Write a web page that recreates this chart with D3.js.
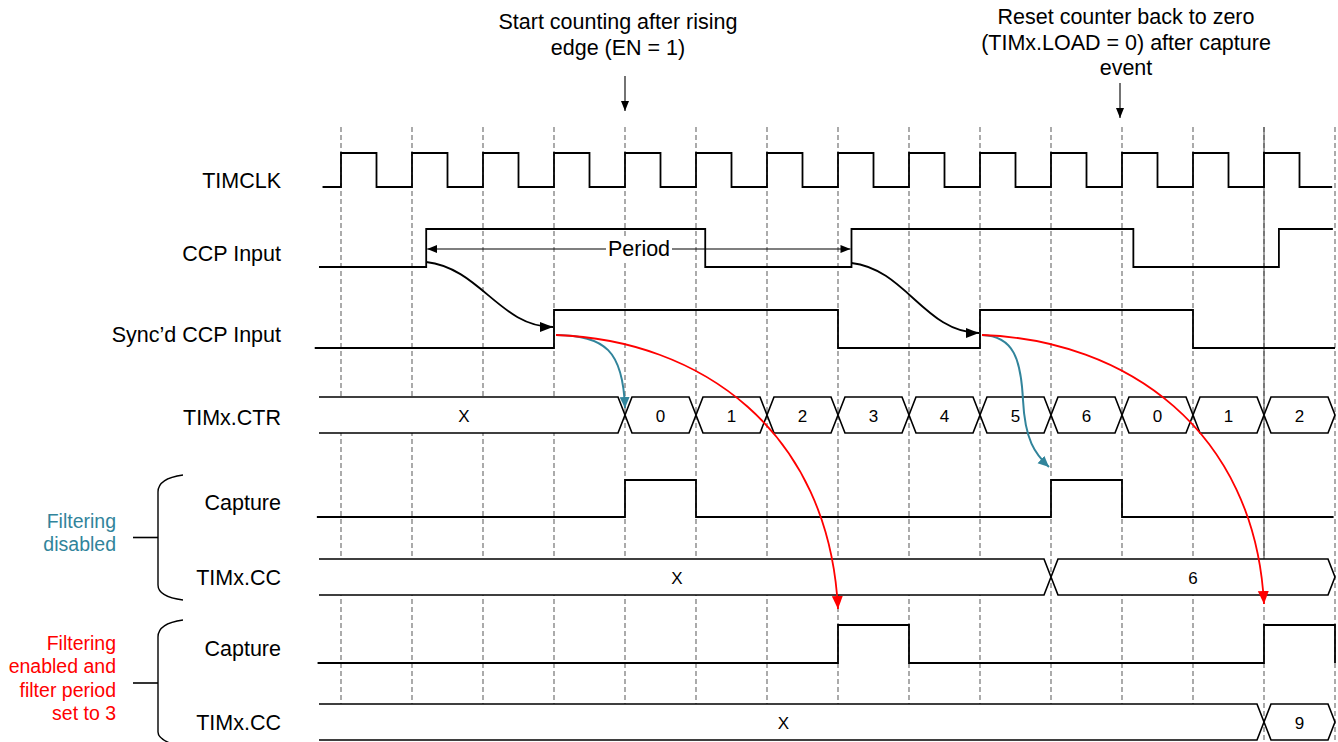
<!DOCTYPE html>
<html>
<head>
<meta charset="utf-8">
<script src="https://cdn.jsdelivr.net/npm/d3@7"></script>
<style>
  html, body { margin: 0; padding: 0; background: #fff; }
  svg { display: block; }
  text { font-family: "Liberation Sans", Arial, sans-serif; fill: #000; }
</style>
</head>
<body>
<svg id="chart" width="1338" height="742"></svg>
<script>
// ---------------- DATA (times in TIMCLK periods) ----------------
const rowLabels = ["TIMCLK", "CCP Input", "Sync\u2019d CCP Input", "TIMx.CTR", "Capture", "TIMx.CC", "Capture", "TIMx.CC"];
const gridTicks = [0, 1, 2, 3, 4, 5, 6, 7, 8, 9, 10, 11, 12, 13, 14];

const clockEdges = [0, 0.5, 1, 1.5, 2, 2.5, 3, 3.5, 4, 4.5, 5, 5.5, 6, 6.5, 7, 7.5, 8, 8.5, 9, 9.5, 10, 10.5, 11, 11.5, 12, 12.5, 13, 13.5];
const ccpInputEdges = [1.2, 5.13, 7.19, 11.16, 13.21];
const syncEdges = [3, 7, 9, 12];
const captureDisabledEdges = [4, 5, 10, 11];
const captureEnabledEdges = [7, 8, 13, 14];

const ctrBounds = [-0.31, 4, 5, 6, 7, 8, 9, 10, 11, 12, 13, 14];
const ctrValues = ["X", "0", "1", "2", "3", "4", "5", "6", "0", "1", "2"];
const ccDisabledBounds = [-0.31, 10, 14];
const ccDisabledValues = ["X", "6"];
const ccEnabledBounds = [-0.31, 13, 14];
const ccEnabledValues = ["X", "9"];

const periodSpan = [1.2, 7.19];
const annotationStart = ["Start counting after rising", "edge (EN = 1)"];
const annotationReset = ["Reset counter back to zero", "(TIMx.LOAD = 0) after capture", "event"];
const groupDisabled = ["Filtering", "disabled"];
const groupEnabled = ["Filtering", "enabled and", "filter period", "set to 3"];

// ---------------- LAYOUT ----------------
const W = 1338, H = 742;
const svg = d3.select("#chart");
const x = d3.scaleLinear().domain([0, 14]).range([341, 1335]);
const TEAL = "#31849B", RED = "#FF0000";

// row geometry: [hiY, loY, labelY]
const rowGeom = [
  [153, 187, 181],
  [229, 267, 254],
  [310, 348, 335],
  [397, 433, 418],
  [480, 517, 503],
  [559, 595, 578],
  [625, 663, 649],
  [704, 740, 723]
];

// markers
const defs = svg.append("defs");
function marker(id, color, len, wid) {
  defs.append("marker").attr("id", id)
    .attr("markerUnits", "userSpaceOnUse")
    .attr("markerWidth", len + 2).attr("markerHeight", wid + 2)
    .attr("viewBox", `0 ${-wid / 2 - 1} ${len + 2} ${wid + 2}`)
    .attr("refX", len).attr("refY", 0)
    .attr("orient", "auto-start-reverse")
    .append("path").attr("d", `M0,${-wid / 2} L${len},0 L0,${wid / 2} Z`).attr("fill", color);
}
marker("arrBlack", "#000", 13, 10);
marker("arrSmall", "#000", 10, 8);
marker("arrTeal", TEAL, 11, 10);
marker("arrRed", RED, 13, 11);

// ---------------- GRID ----------------
svg.append("g").selectAll("line").data(gridTicks).join("line")
  .attr("x1", d => x(d)).attr("x2", d => x(d))
  .attr("y1", 127).attr("y2", H)
  .attr("stroke", "#666").attr("stroke-width", 1.1)
  .attr("stroke-dasharray", "5,3");
// solid marker line
svg.append("line").attr("x1", x(13)).attr("x2", x(13)).attr("y1", 127).attr("y2", 559)
  .attr("stroke", "#444").attr("stroke-width", 1);

// ---------------- ROW LABELS ----------------
svg.append("g").selectAll("text").data(rowLabels).join("text")
  .attr("x", 281).attr("y", (d, i) => rowGeom[i][2])
  .attr("text-anchor", "end").attr("dominant-baseline", "central")
  .attr("font-size", 21.5).text(d => d);

// ---------------- WAVEFORMS ----------------
function wave(edges, start, end, row, initial = 0) {
  const [hi, lo] = rowGeom[row];
  let lvl = initial;
  let p = d3.path();
  p.moveTo(x(start), lvl ? hi : lo);
  edges.forEach(e => {
    p.lineTo(x(e), lvl ? hi : lo);
    lvl = 1 - lvl;
    p.lineTo(x(e), lvl ? hi : lo);
  });
  p.lineTo(x(end), lvl ? hi : lo);
  svg.append("path").attr("d", p.toString())
    .attr("fill", "none").attr("stroke", "#000").attr("stroke-width", 1.8);
}
wave(clockEdges, -0.26, 13.96, 0);
wave(ccpInputEdges, -0.31, 13.97, 1);
wave(syncEdges, -0.37, 14, 2);
wave(captureDisabledEdges, -0.34, 13.98, 4);
wave(captureEnabledEdges, -0.33, 14, 6);

// ---------------- BUSES ----------------
function bus(bounds, values, row) {
  const [top, bot] = rowGeom[row];
  const mid = (top + bot) / 2, s = 7;
  const g = svg.append("g");
  values.forEach((v, i) => {
    const x0 = x(bounds[i]), x1 = x(bounds[i + 1]);
    const open = i === 0;
    let p = d3.path();
    if (open) {
      p.moveTo(x0, top); p.lineTo(x1 - s, top); p.lineTo(x1, mid);
      p.lineTo(x1 - s, bot); p.lineTo(x0, bot);
    } else {
      p.moveTo(x0, mid); p.lineTo(x0 + s, top); p.lineTo(x1 - s, top);
      p.lineTo(x1, mid); p.lineTo(x1 - s, bot); p.lineTo(x0 + s, bot); p.closePath();
    }
    g.append("path").attr("d", p.toString()).attr("fill", "#fff")
      .attr("stroke", "#000").attr("stroke-width", 1.6).attr("stroke-linejoin", "miter");
    g.append("text").attr("x", (x0 + x1) / 2 - (open ? 8 : 0)).attr("y", mid + 1)
      .attr("text-anchor", "middle").attr("dominant-baseline", "central")
      .attr("font-size", 17).text(v);
  });
}
bus(ctrBounds, ctrValues, 3);
bus(ccDisabledBounds, ccDisabledValues, 5);
bus(ccEnabledBounds, ccEnabledValues, 7);

// ---------------- PERIOD ----------------
const py = 249;
svg.append("line").attr("x1", x(periodSpan[0]) + 1).attr("x2", x(periodSpan[1]) - 1)
  .attr("y1", py).attr("y2", py).attr("stroke", "#000").attr("stroke-width", 1.1)
  .attr("marker-start", "url(#arrSmall)").attr("marker-end", "url(#arrSmall)");
const pcx = 639;
svg.append("rect").attr("x", pcx - 33).attr("y", py - 12).attr("width", 66).attr("height", 24).attr("fill", "#fff");
svg.append("text").attr("x", pcx).attr("y", py).attr("text-anchor", "middle")
  .attr("dominant-baseline", "central").attr("font-size", 21.5).text("Period");

// ---------------- CAUSAL ARROWS ----------------
function curve(d, color, mk, w) {
  svg.append("path").attr("d", d).attr("fill", "none").attr("stroke", color)
    .attr("stroke-width", w).attr("marker-end", `url(#${mk})`);
}
// CCP -> sync
[[periodSpan[0], 3, 262, 327], [periodSpan[1], 9, 263, 333]].forEach(([a, b, y0, y1]) => {
  const xa = x(a), xb = x(b) - 1;
  curve(`M${xa},${y0} C${xa + 54},${y0 + 6} ${xa + 74},${y1} ${xb},${y1}`, "#000", "arrBlack", 1.8);
});
// teal: sync -> CTR reset / capture
curve(`M${x(3) + 2},335 C${x(3) + 51},336 ${x(4) - 2},350 ${x(4)},408`, TEAL, "arrTeal", 2);
curve(`M${x(9) + 2},335 C${x(9) + 34},336 ${x(9) + 41},360 ${x(9) + 43},400 C${x(9) + 45},440 ${x(9) + 55},454 ${x(10) - 2},467`, TEAL, "arrTeal", 2);
// red: sync -> filtered capture
[[3, 7, 609], [9, 13, 604]].forEach(([a, b, yt]) => {
  const xa = x(a) + 2, xb = x(b);
  curve(`M${xa},335 C${xa + 144},340 ${xb - 9},430 ${xb},${yt}`, RED, "arrRed", 1.8);
});

// ---------------- TOP ANNOTATIONS ----------------
function annot(lines, cx, y0, ax, ay0, ay1) {
  svg.append("g").selectAll("text").data(lines).join("text")
    .attr("x", cx).attr("y", (d, i) => y0 + i * 25.5)
    .attr("text-anchor", "middle").attr("dominant-baseline", "central")
    .attr("font-size", 21.5).text(d => d);
  svg.append("line").attr("x1", ax).attr("x2", ax).attr("y1", ay0).attr("y2", ay1)
    .attr("stroke", "#000").attr("stroke-width", 1.1).attr("marker-end", "url(#arrSmall)");
}
annot(annotationStart, 618, 22, x(4), 76, 111);
annot(annotationReset, 1126, 17, 1120, 83, 118);

// ---------------- GROUP BRACKETS ----------------
svg.append("path").attr("d", "M183,475 C168,477 158,482 158,492 V585 C158,594 168,598 183,600")
  .attr("fill", "none").attr("stroke", "#000").attr("stroke-width", 1.4);
svg.append("path").attr("d", "M133,537.5 H158").attr("stroke", "#000").attr("stroke-width", 1.6);
svg.append("path").attr("d", "M183,620 C168,622 158,627 158,637 V732 C158,738 166,742 175,745")
  .attr("fill", "none").attr("stroke", "#000").attr("stroke-width", 1.4);
svg.append("path").attr("d", "M133,683 H158").attr("stroke", "#000").attr("stroke-width", 1.6);

svg.append("g").selectAll("text").data(groupDisabled).join("text")
  .attr("x", 116).attr("y", (d, i) => 521 + i * 23)
  .attr("text-anchor", "end").attr("dominant-baseline", "central")
  .attr("font-size", 19.5).style("fill", TEAL).text(d => d);
svg.append("g").selectAll("text").data(groupEnabled).join("text")
  .attr("x", 116).attr("y", (d, i) => 643 + i * 23.3)
  .attr("text-anchor", "end").attr("dominant-baseline", "central")
  .attr("font-size", 19.5).style("fill", RED).text(d => d);
</script>
</body>
</html>
